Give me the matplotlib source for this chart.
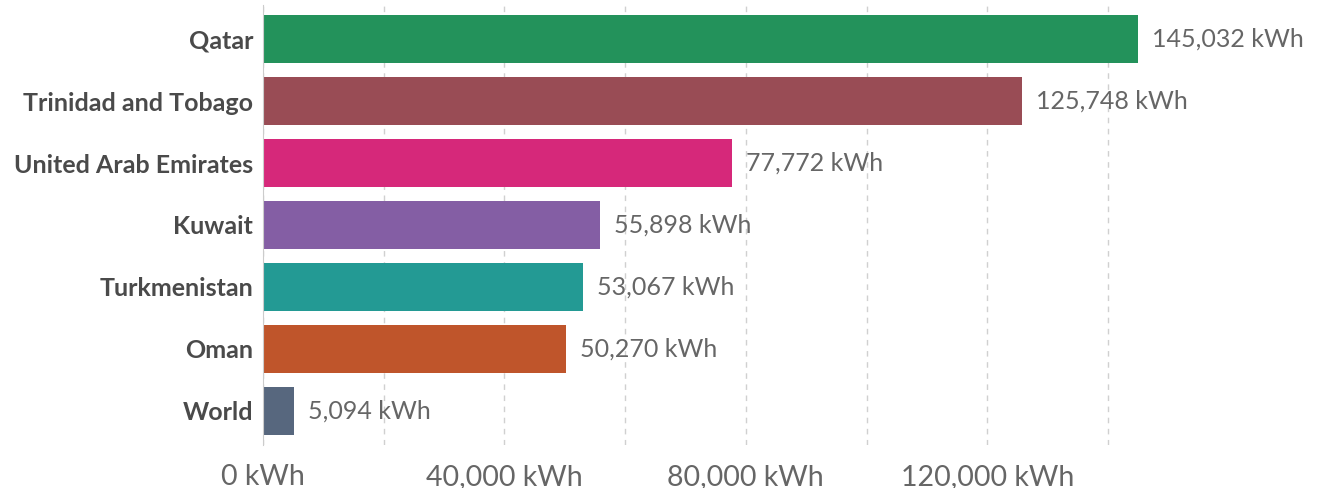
import numpy as np
import matplotlib.pyplot as plt
from matplotlib.ticker import FuncFormatter, MultipleLocator

# energy use per person (kWh)
countries = ['Qatar', 'Trinidad and Tobago', 'United Arab Emirates', 'Kuwait',
             'Turkmenistan', 'Oman', 'World']
values = [145032, 125748, 77772, 55898, 53067, 50270, 5094]
colors = ['#23925b', '#994c55', '#d6287a', '#845ea4', '#239a94', '#bf552b', '#57677e']

plt.rcParams['font.family'] = ['Lato', 'DejaVu Sans']

fig = plt.figure(figsize=(13.17, 4.88), dpi=100)
xmax = 150000
px_per_unit = 120.7 / 20000
left_px = 263
ax = fig.add_axes([left_px / 1317, 1 - 445 / 488, xmax * px_per_unit / 1317, (445 - 5) / 488])

y = np.arange(len(countries))
ax.barh(y, values, height=0.77, color=colors, zorder=2)

for yi, v in zip(y, values):
    ax.text(v + 2300, yi, f'{v:,} kWh', va='center', ha='left',
            fontsize=18, color='#666666', zorder=3, clip_on=False)

ax.set_yticks(y)
ax.set_yticklabels(countries, fontsize=18, fontweight='bold', color='#4a4a4a')
ax.set_ylim(len(countries) - 0.5 + 0.05, -0.5 - 0.05)
ax.set_xlim(0, xmax)

ax.xaxis.set_major_locator(MultipleLocator(40000))
ax.xaxis.set_minor_locator(MultipleLocator(20000))
ax.xaxis.set_major_formatter(FuncFormatter(lambda x, p: f'{int(x):,} kWh'))
ax.tick_params(axis='x', which='both', length=0, labelsize=20.5, labelcolor='#666666', pad=14)
ax.tick_params(axis='y', length=0, pad=7)

ax.grid(axis='x', which='both', linestyle=(0, (4, 4)), color='#d0d0d0', linewidth=1, zorder=0)
for s in ['top', 'right', 'bottom']:
    ax.spines[s].set_visible(False)
ax.spines['left'].set_color('#cccccc')
ax.spines['left'].set_zorder(3)

fig.savefig('out.png', dpi=100)
